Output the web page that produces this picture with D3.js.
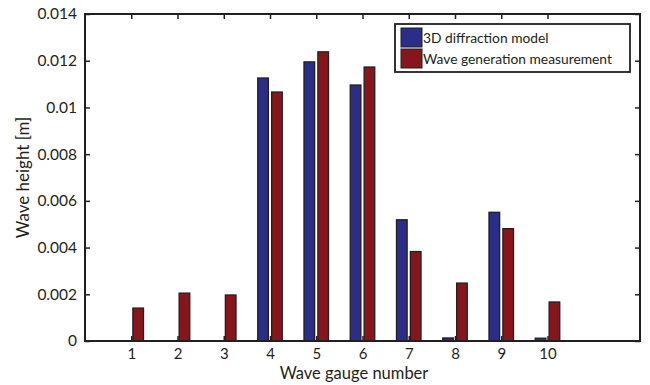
<!DOCTYPE html>
<html>
<head>
<meta charset="utf-8">
<script src="https://cdn.jsdelivr.net/npm/d3@7"></script>
<style>
  body { margin: 0; background: #fff; }
  svg text { font-family: Lato, "Open Sans", sans-serif; fill: #231f20; }
</style>
</head>
<body>
<svg id="chart" width="650" height="385"></svg>
<script>
// gauge numbers and the two series
const gauges = [1, 2, 3, 4, 5, 6, 7, 8, 9, 10];
const diffraction = [0, 0, 0, 0.01126, 0.01195, 0.01096, 0.00519, 0.00013, 0.00551, 0.00012];
const measurement = [0.00141, 0.00205, 0.00197, 0.01066, 0.01238, 0.01173, 0.00383, 0.00248, 0.00481, 0.00167];
const seriesNames = ['3D diffraction model', 'Wave generation measurement'];
const seriesColors = ['#2a2e86', '#86161b'];
const yTicks = [0, 0.002, 0.004, 0.006, 0.008, 0.01, 0.012, 0.014];

const margin = {top: 14, right: 10, bottom: 44, left: 85};
const width = 650 - margin.left - margin.right,
    height = 385 - margin.top - margin.bottom;

const svg = d3.select('#chart');
const g = svg.append('g').attr('transform', 'translate(' + margin.left + ',' + margin.top + ')');

let x = d3.scaleLinear().domain([0, 12]).range([0, width]);
let y = d3.scaleLinear().domain([0, 0.014]).range([height, 0]);

const barW = x(0.23) - x(0);
const offset = x(0.15) - x(0);

// bars
[diffraction, measurement].forEach(function (series, si) {
    g.selectAll('.bar' + si)
        .data(series)
        .enter().append('rect')
        .attr('class', 'bar' + si)
        .attr('x', (d, i) => x(gauges[i]) + (si === 0 ? -offset : offset) - barW / 2)
        .attr('y', d => y(d))
        .attr('width', barW)
        .attr('height', d => height - y(d))
        .attr('fill', seriesColors[si])
        .attr('stroke', '#231f20')
        .attr('stroke-width', 1.3);
});

// axes, ticks pointing inward
const tickFmt = d => d === 0 ? '0' : d3.format('')(+d.toFixed(3));
g.append('g').attr('transform', 'translate(0,' + height + ')')
    .call(d3.axisBottom(x).tickValues(gauges).tickSizeInner(-5).tickSizeOuter(0).tickPadding(7))
    .call(a => a.selectAll('text').attr('font-size', 15));
g.append('g')
    .call(d3.axisTop(x).tickValues(gauges).tickSizeInner(-5).tickSizeOuter(0).tickFormat(''));
g.append('g')
    .call(d3.axisLeft(y).tickValues(yTicks).tickSizeInner(-5).tickSizeOuter(0).tickPadding(8).tickFormat(tickFmt))
    .call(a => a.selectAll('text').attr('font-size', 15.5));
g.append('g').attr('transform', 'translate(' + width + ',0)')
    .call(d3.axisRight(y).tickValues(yTicks).tickSizeInner(-5).tickSizeOuter(0).tickFormat(''));

g.selectAll('.domain').remove();
g.selectAll('.tick line').attr('stroke', '#231f20').attr('stroke-width', 1.5);

g.append('rect')
    .attr('width', width).attr('height', height)
    .attr('fill', 'none').attr('stroke', '#231f20').attr('stroke-width', 2);

// axis labels
g.append('text')
    .attr('x', 354 - margin.left).attr('y', height + 38)
    .attr('text-anchor', 'middle').attr('font-size', 16.5)
    .text('Wave gauge number');
g.append('text')
    .attr('transform', 'translate(' + (-56) + ',' + (height / 2) + ') rotate(-90)')
    .attr('text-anchor', 'middle').attr('font-size', 17)
    .text('Wave height [m]');

// legend
const legend = g.append('g').attr('transform', 'translate(' + (395 - margin.left) + ',' + (24 - margin.top) + ')');
legend.append('rect')
    .attr('width', 235).attr('height', 48)
    .attr('fill', '#fff').attr('stroke', '#231f20').attr('stroke-width', 1.8);
seriesNames.forEach(function (name, i) {
    legend.append('rect')
        .attr('x', 6).attr('y', 4 + i * 21)
        .attr('width', 21).attr('height', 19)
        .attr('fill', seriesColors[i]).attr('stroke', '#231f20').attr('stroke-width', 1);
    legend.append('text')
        .attr('x', 28).attr('y', 19 + i * 21)
        .attr('font-size', 13.8)
        .text(name);
});
</script>
</body>
</html>
